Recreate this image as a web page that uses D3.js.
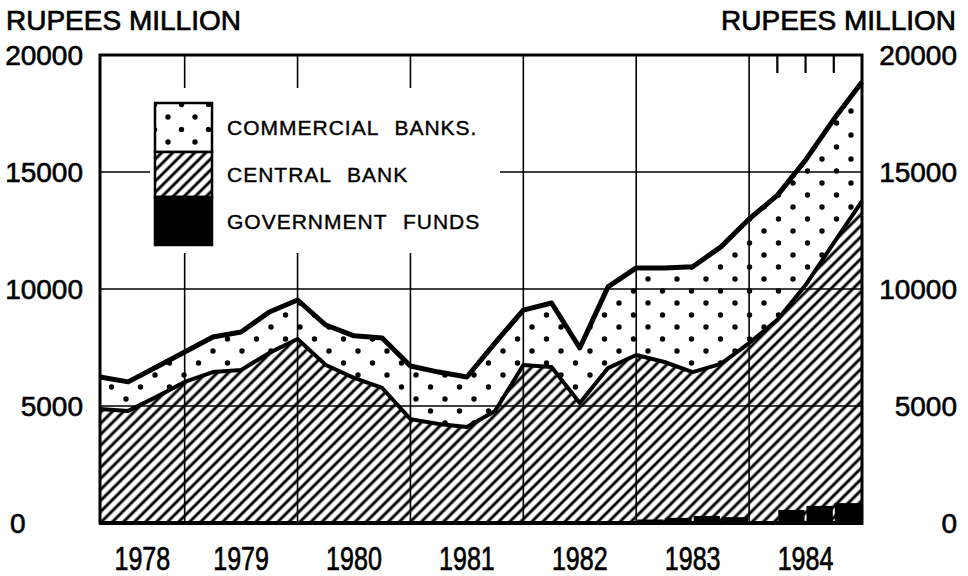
<!DOCTYPE html>
<html>
<head>
<meta charset="utf-8">
<script src="https://cdn.jsdelivr.net/npm/d3@7"></script>
<style>
  html, body { margin: 0; padding: 0; background: #fff; }
  svg { display: block; }
  text { font-family: "Liberation Sans", Arial, sans-serif; fill: #000; }
</style>
</head>
<body>
<svg id="chart" width="968" height="576"></svg>
<script>
// ---- data (Rupees million), quarterly ----
const quarterDates = [1978.25, 1978.5, 1978.75, 1979.0, 1979.25, 1979.5, 1979.75,
  1980.0, 1980.25, 1980.5, 1980.75, 1981.0, 1981.25, 1981.5, 1981.75,
  1982.0, 1982.25, 1982.5, 1982.75, 1983.0, 1983.25, 1983.5, 1983.75,
  1984.0, 1984.25, 1984.5, 1984.75, 1985.0];
// top of the stack: government funds + central bank + commercial banks
const totalLevel = [6240, 6030, 6670, 7310, 7950, 8160, 9020,
  9530, 8460, 8000, 7910, 6710, 6450, 6240, 7700,
  9100, 9400, 7480, 10090, 10900, 10900, 10950, 11800,
  12990, 14000, 15510, 17250, 18850];
// top of the central bank band: government funds + central bank
const centralLevel = [4870, 4790, 5390, 6030, 6450, 6540, 7270,
  7860, 6750, 6200, 5770, 4440, 4230, 4100, 4790,
  6750, 6670, 5130, 6620, 7180, 6880, 6450, 6800,
  7690, 8680, 10170, 11970, 13760];
// government funds, by quarter start
const govQuarterStart = [1982.75, 1983.0, 1983.25, 1983.5, 1983.75, 1984.0, 1984.25, 1984.5, 1984.75];
const govFunds = [60, 150, 220, 300, 250, 80, 560, 730, 850];

const years = [1978, 1979, 1980, 1981, 1982, 1983, 1984];
const yearBoundaries = [1979, 1980, 1981, 1982, 1983, 1984];
const topQuarterTicks = [1984.25, 1984.5, 1984.75];
const yTicks = [0, 5000, 10000, 15000, 20000];
const yTickLabels = ["0", "5000", "10000", "15000", "20000"];
const unitLabel = "RUPEES MILLION";
const legendLabels = ["COMMERCIAL BANKS.", "CENTRAL BANK", "GOVERNMENT FUNDS"];

// ---- layout ----
const svg = d3.select("#chart");
const L = 100, R = 862, T = 55, B = 523;
const x = d3.scaleLinear().domain([1978.25, 1985.0]).range([L, R]);
const y = d3.scaleLinear().domain([0, 20000]).range([B, T]);

const defs = svg.append("defs");
// hatch pattern "/"
const hatch = defs.append("pattern").attr("id", "hatch")
  .attr("patternUnits", "userSpaceOnUse").attr("width", 7.8).attr("height", 7.8)
  .attr("patternTransform", "rotate(45)");
hatch.append("rect").attr("width", 7.8).attr("height", 7.8).attr("fill", "#fff");
hatch.append("line").attr("x1", 3.9).attr("y1", -1).attr("x2", 3.9).attr("y2", 8.8)
  .attr("stroke", "#000").attr("stroke-width", 2.9);

function stipple(id, w, h, ox, oy) {
  const p = defs.append("pattern").attr("id", id)
    .attr("patternUnits", "userSpaceOnUse").attr("width", w).attr("height", h)
    .attr("x", ox).attr("y", oy);
  p.append("rect").attr("width", w).attr("height", h).attr("fill", "#fff");
  [[0, 0], [w, 0], [0, h], [w, h], [w / 2, h / 2]].forEach(([cx, cy]) =>
    p.append("circle").attr("cx", cx).attr("cy", cy).attr("r", 2.7).attr("fill", "#000"));
}
stipple("dots", 29, 24, 10, 15);
stipple("dotsLegend", 27, 25, 168, 117);

svg.append("rect").attr("width", 968).attr("height", 576).attr("fill", "#fff");

const pts = quarterDates.map((d, i) => ({ d, top: totalLevel[i], mid: centralLevel[i] }));

// central bank (hatched) area
svg.append("path").datum(pts)
  .attr("d", d3.area().x(p => x(p.d)).y0(y(0)).y1(p => y(p.mid)))
  .attr("fill", "url(#hatch)");
// commercial banks (stippled) area
svg.append("path").datum(pts)
  .attr("d", d3.area().x(p => x(p.d)).y0(p => y(p.mid)).y1(p => y(p.top)))
  .attr("fill", "url(#dots)");
// government funds (black)
svg.append("g").selectAll("rect").data(govQuarterStart).join("rect")
  .attr("x", (d) => x(d) + 1)
  .attr("width", (d) => x(d + 0.25) - x(d) - 2)
  .attr("y", (d, i) => y(govFunds[i]))
  .attr("height", (d, i) => y(0) - y(govFunds[i]))
  .attr("fill", "#000");

// grid
const grid = svg.append("g").attr("stroke", "#000").attr("stroke-width", 1.6);
yTicks.filter(v => v > 0 && v < 20000).forEach(v =>
  grid.append("line").attr("x1", L).attr("x2", R).attr("y1", y(v)).attr("y2", y(v)));
yearBoundaries.forEach(d =>
  grid.append("line").attr("x1", x(d)).attr("x2", x(d)).attr("y1", T).attr("y2", B));
topQuarterTicks.forEach(d =>
  grid.append("line").attr("x1", x(d)).attr("x2", x(d)).attr("y1", T).attr("y2", T + 18)
    .attr("stroke-width", 2.2));

// legend
const lg = svg.append("g");
lg.append("rect").attr("x", 150).attr("y", 88).attr("width", 350).attr("height", 165).attr("fill", "#fff");
const boxX = 155, boxW = 57, rows = [[103, 152], [152, 197], [197, 245]];
const fills = ["url(#dotsLegend)", "url(#hatch)", "#000"];
rows.forEach((r, i) => {
  lg.append("rect").attr("x", boxX).attr("y", r[0]).attr("width", boxW).attr("height", r[1] - r[0])
    .attr("fill", fills[i]).attr("stroke", "#000").attr("stroke-width", 2.5);
  lg.append("text").attr("x", 227).attr("y", (r[0] + r[1]) / 2 + 7.5)
    .attr("font-size", 21).attr("letter-spacing", 1).attr("word-spacing", 9)
    .attr("stroke", "#000").attr("stroke-width", 0.4)
    .text(legendLabels[i]);
});

// lines
svg.append("path").datum(pts)
  .attr("d", d3.line().x(p => x(p.d)).y(p => y(p.mid)))
  .attr("fill", "none").attr("stroke", "#000").attr("stroke-width", 4).attr("stroke-linejoin", "round");
svg.append("path").datum(pts)
  .attr("d", d3.line().x(p => x(p.d)).y(p => y(p.top)))
  .attr("fill", "none").attr("stroke", "#000").attr("stroke-width", 5).attr("stroke-linejoin", "round");

// frame
svg.append("rect").attr("x", L).attr("y", T).attr("width", R - L).attr("height", B - T)
  .attr("fill", "none").attr("stroke", "#000").attr("stroke-width", 3);
svg.append("line").attr("x1", L - 1).attr("x2", R + 1).attr("y1", B).attr("y2", B)
  .attr("stroke", "#000").attr("stroke-width", 4);

// titles
const tStyle = s => s.attr("font-size", 28).attr("stroke", "#000").attr("stroke-width", 0.7);
tStyle(svg.append("text").attr("x", 6).attr("y", 30).text(unitLabel));
tStyle(svg.append("text").attr("x", 956).attr("y", 30).attr("text-anchor", "end").text(unitLabel));

// y tick labels
yTicks.forEach((v, i) => {
  const lt = svg.append("text").attr("y", y(v) + 10).attr("font-size", 28)
    .attr("stroke", "#000").attr("stroke-width", 0.6).text(yTickLabels[i]);
  if (v === 0) lt.attr("x", 10); else lt.attr("x", 83).attr("text-anchor", "end");
  svg.append("text").attr("x", 957).attr("y", y(v) + 10).attr("font-size", 28)
    .attr("text-anchor", "end").attr("stroke", "#000").attr("stroke-width", 0.6).text(yTickLabels[i]);
});

// x labels (year centred in its visible span)
years.forEach(yr => {
  const a = Math.max(yr, x.domain()[0]), b = Math.min(yr + 1, x.domain()[1]);
  svg.append("text")
    .attr("transform", `translate(${x((a + b) / 2)},570) scale(0.76,1)`)
    .attr("text-anchor", "middle").attr("font-size", 33)
    .attr("stroke", "#000").attr("stroke-width", 0.7)
    .text(yr);
});
</script>
</body>
</html>
